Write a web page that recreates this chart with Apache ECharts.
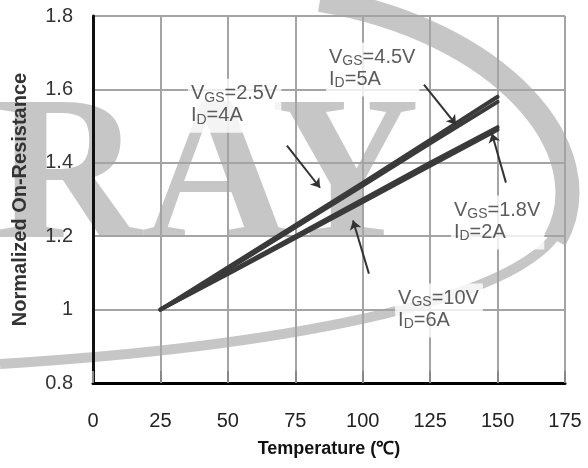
<!DOCTYPE html>
<html>
<head>
<meta charset="utf-8">
<script src="https://cdn.jsdelivr.net/npm/echarts@6/dist/echarts.min.js"></script>
<style>
  html, body { margin: 0; padding: 0; background: #fff; }
  #chart { width: 588px; height: 468px; }
</style>
</head>
<body>
<div id="chart"></div>
<script>
// temperature (℃) where the curves were read
var temps = [25, 50, 75, 100, 125, 150];

// normalized on-resistance, one array per curve
var vgs45 = [1.00, 1.115, 1.23, 1.345, 1.462, 1.58];
var vgs25 = [1.00, 1.11, 1.224, 1.338, 1.453, 1.566];
var vgs18 = [1.00, 1.10, 1.20, 1.30, 1.40, 1.497];
var vgs10 = [1.00, 1.097, 1.195, 1.293, 1.392, 1.49];

var xTicks = [0, 25, 50, 75, 100, 125, 150, 175];
var yTicks = [0.8, 1, 1.2, 1.4, 1.6, 1.8];

// annotation texts, their anchors and arrows (data units)
var noteText = [
    ['2.5V', '4A'],
    ['4.5V', '5A'],
    ['1.8V', '2A'],
    ['10V', '6A']
];
var noteAt = [[35.2, 1.629], [86.4, 1.728], [132.7, 1.311], [112.0, 1.071]];
var arrows = [
    [[71.9, 1.447], [84.2, 1.332]],
    [[122.7, 1.613], [134.6, 1.504]],
    [[153.1, 1.346], [147.9, 1.480]],
    [[102.3, 1.098], [96.4, 1.243]]
];

var chart = echarts.init(document.getElementById('chart'));

var lineColor = '#3a3a3a';
var fnt = 'Liberation Sans, Arial, sans-serif';
var wmColor = '#c6c6c6';

function curve(vals) {
    return {
        type: 'line',
        data: temps.map(function(t, i) { return [t, vals[i]]; }),
        showSymbol: false,
        symbol: 'none',
        lineStyle: { color: lineColor, width: 4, cap: 'round' },
        z: 3,
        silent: true
    };
}

// arrow = markLine between two points, arrow head at the end
function arrow(a) {
    return {
        type: 'line',
        data: [],
        z: 4,
        silent: true,
        markLine: {
            silent: true,
            symbol: ['none', 'arrow'],
            symbolSize: 9,
            label: { show: false },
            lineStyle: { color: '#333', width: 2, type: 'solid' },
            data: [[{ coord: a[0] }, { coord: a[1] }]]
        }
    };
}

var option = {
    animation: false,
    backgroundColor: '#fff',
    grid: { left: 93, right: 23, top: 16, bottom: 85 },
    graphic: [{
        type: 'text',
        z: -10,
        x: -6,
        y: 82,
        style: {
            text: 'RAY',
            font: 'bold 205px "Liberation Serif", serif',
            fill: wmColor
        }
    }, {
        type: 'bezierCurve',
        z: -10,
        shape: { x1: 320, y1: 0, cpx1: 500, cpy1: 30, cpx2: 605, cpy2: 150, x2: 555, y2: 240 },
        style: { stroke: wmColor, lineWidth: 24, fill: null }
    }, {
        type: 'bezierCurve',
        z: -10,
        shape: { x1: 560, y1: 228, cpx1: 520, cpy1: 305, cpx2: 260, cpy2: 348, x2: 0, y2: 364 },
        style: { stroke: wmColor, lineWidth: 10, fill: null }
    }],
    xAxis: {
        type: 'value',
        min: 0,
        max: 175,
        interval: 25,
        name: 'Temperature (℃)',
        nameLocation: 'middle',
        nameGap: 57,
        nameTextStyle: { fontFamily: fnt, fontWeight: 'bold', fontSize: 18, color: '#111' },
        axisLine: { onZero: false, lineStyle: { color: '#000', width: 3 } },
        axisTick: { show: true, inside: true, length: 12, lineStyle: { color: '#888', width: 2 } },
        axisLabel: {
            fontFamily: fnt, fontSize: 20, color: '#222', margin: 28,
            formatter: function(v) { return xTicks.indexOf(v) >= 0 ? String(v) : ''; }
        },
        splitLine: { show: true, lineStyle: { color: '#a4a4a4', width: 2 } }
    },
    yAxis: {
        type: 'value',
        min: 0.8,
        max: 1.8,
        interval: 0.2,
        name: 'Normalized On-Resistance',
        nameLocation: 'middle',
        nameGap: 63,
        nameTextStyle: { fontFamily: fnt, fontWeight: 'bold', fontSize: 20, color: '#333' },
        axisLine: { show: true, onZero: false, lineStyle: { color: '#111', width: 3 } },
        axisTick: { show: false },
        axisLabel: {
            fontFamily: fnt, fontSize: 20, color: '#333', margin: 20,
            formatter: function(v) {
                var r = Math.round(v * 10) / 10;
                return yTicks.indexOf(r) >= 0 ? String(r) : '';
            }
        },
        splitLine: { show: true, lineStyle: { color: '#a4a4a4', width: 2 } }
    },
    series: [
        curve(vgs10),
        curve(vgs18),
        curve(vgs25),
        curve(vgs45),
        {
            type: 'scatter',
            symbolSize: 0,
            data: noteAt,
            z: 5,
            silent: true,
            label: {
                show: true,
                position: [0, 0],
                align: 'left',
                verticalAlign: 'top',
                backgroundColor: '#fff',
                padding: [4, 4, 6, 3],
                formatter: function(p) {
                    var n = noteText[p.dataIndex];
                    return '{m|V}{s|GS}{m|=' + n[0] + '}\n{m|I}{s|D}{m|=' + n[1] + '}';
                },
                rich: {
                    m: { fontFamily: fnt, fontSize: 20, color: '#333', lineHeight: 22 },
                    s: { fontFamily: fnt, fontSize: 14, color: '#333', lineHeight: 10, verticalAlign: 'bottom' }
                }
            }
        }
    ].concat(arrows.map(arrow))
};

chart.setOption(option);
</script>
</body>
</html>
